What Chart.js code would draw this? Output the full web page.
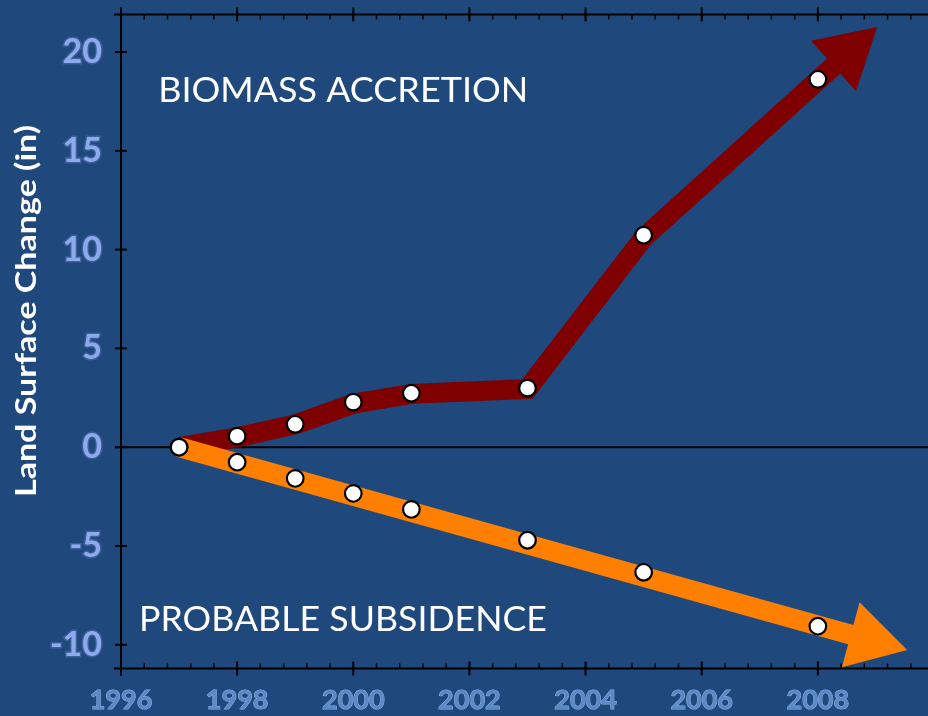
<!DOCTYPE html>
<html><head><meta charset="utf-8">
<script src="https://cdn.jsdelivr.net/npm/chart.js@4.4.0/dist/chart.umd.min.js"></script>
<style>
html,body{margin:0;padding:0;background:#1F497D;overflow:hidden;width:928px;height:716px}
#wrap{position:absolute;left:0;top:0;width:940px;height:716px}
</style></head><body>
<div id="wrap"><canvas id="c"></canvas></div>
<script>
// ---- data ----
const markerYears = [1997, 1998, 1999, 2000, 2001, 2003, 2005, 2008];
const accretionValues = [0, 0.56, 1.16, 2.28, 2.73, 2.99, 10.73, 18.62];
const subsidenceValues = [0, -0.76, -1.58, -2.34, -3.15, -4.71, -6.33, -9.06];
const accretionArrowYears = [1997, 1998, 1999, 2000, 2001, 2003, 2005, 2008.52];
const accretionArrowValues = [0, 0.5, 1.15, 2.2, 2.7, 2.95, 10.6, 19.95];
const subsidenceArrowYears = [1997, 2008.89];
const subsidenceArrowValues = [0, -9.75];
const xTickValues = [1996, 1998, 2000, 2002, 2004, 2006, 2008];
const yTickValues = [-10, -5, 0, 5, 10, 15, 20];
const labelAccretion = 'BIOMASS ACCRETION';
const labelSubsidence = 'PROBABLE SUBSIDENCE';
const yAxisTitle = 'Land Surface Change (in)';

const pts = (xs, ys) => xs.map((x, i) => ({x: x, y: ys[i]}));

const RED = '#7F0000', ORANGE = '#FF8000';

function drawFitted(ctx, text, x, y, width, font, rot) {
  ctx.save();
  ctx.font = font;
  const w = ctx.measureText(text).width;
  ctx.translate(x, y);
  if (rot) ctx.rotate(rot);
  ctx.scale(width / w, 1);
  ctx.textAlign = 'left';
  ctx.textBaseline = 'alphabetic';
  ctx.fillStyle = '#FFFFFF';
  ctx.fillText(text, 0, 0);
  ctx.restore();
}

const framePlugin = {
  id: 'frame',
  beforeDatasetsDraw(chart) {
    const {ctx, chartArea: a, scales: {x, y}} = chart;
    ctx.save();
    ctx.strokeStyle = '#000';
    ctx.lineWidth = 2;
    ctx.lineCap = 'butt';
    const line = (x1, y1, x2, y2) => { ctx.beginPath(); ctx.moveTo(x1, y1); ctx.lineTo(x2, y2); ctx.stroke(); };
    // zero line
    const y0 = y.getPixelForValue(0);
    line(a.left - 6, y0, a.right, y0);
    // frame
    line(a.left - 7, a.bottom, a.right + 7, a.bottom);
    line(a.left - 7, a.top, a.right + 7, a.top);
    line(a.left, a.top - 7, a.left, a.bottom + 7);
    line(a.right, a.top - 7, a.right, a.bottom + 7);
    // minor x ticks every 0.4 year
    ctx.lineWidth = 1.5;
    for (let v = x.min; v <= x.max + 1e-6; v += 0.4) {
      const px = x.getPixelForValue(v);
      line(px, a.bottom, px, a.bottom - 5);
      line(px, a.top, px, a.top + 5);
    }
    // major x ticks
    ctx.lineWidth = 2;
    for (const v of xTickValues.concat([x.max])) {
      const px = x.getPixelForValue(v);
      line(px, a.bottom - 7, px, a.bottom + 7);
      line(px, a.top - 7, px, a.top + 7);
    }
    // major y ticks
    for (const v of yTickValues) {
      const py = y.getPixelForValue(v);
      line(a.left - 6, py, a.left + 6, py);
      line(a.right - 6, py, a.right + 6, py);
    }
    ctx.restore();
  },
  afterDraw(chart) {
    const {ctx, scales: {x, y}} = chart;
    drawFitted(ctx, labelAccretion, x.getPixelForValue(1996.64), y.getPixelForValue(17.48), 370, '35px Lato');
    drawFitted(ctx, labelSubsidence, x.getPixelForValue(1996.31), y.getPixelForValue(-9.3), 408, '35px Lato');
    drawFitted(ctx, yAxisTitle, 36, 497, 372, 'bold 28px Lato', -Math.PI / 2);
  }
};

new Chart(document.getElementById('c'), {
  type: 'scatter',
  data: {
    datasets: [
      {
        label: 'Biomass accretion',
        data: pts(markerYears, accretionValues),
        showLine: false,
        pointRadius: 8.3,
        pointBorderWidth: 2.2,
        pointBorderColor: '#000',
        pointBackgroundColor: '#FFF',
        order: 0
      },
      {
        label: 'Probable subsidence',
        data: pts(markerYears, subsidenceValues),
        showLine: false,
        pointRadius: 8.3,
        pointBorderWidth: 2.2,
        pointBorderColor: '#000',
        pointBackgroundColor: '#FFF',
        order: 0
      },
      {
        label: 'Subsidence trend',
        data: pts(subsidenceArrowYears, subsidenceArrowValues),
        showLine: true,
        borderColor: ORANGE,
        borderWidth: 20,
        borderCapStyle: 'butt',
        pointStyle: 'triangle',
        pointRadius: c => c.dataIndex === subsidenceArrowYears.length - 1 ? 39 : 0,
        pointRotation: 105.2,
        pointBackgroundColor: ORANGE,
        pointBorderWidth: 0,
        order: 1
      },
      {
        label: 'Accretion trend',
        data: pts(accretionArrowYears, accretionArrowValues),
        showLine: true,
        borderColor: RED,
        borderWidth: 20,
        borderCapStyle: 'butt',
        borderJoinStyle: 'miter',
        pointStyle: 'triangle',
        pointRadius: c => c.dataIndex === accretionArrowYears.length - 1 ? 39 : 0,
        pointRotation: 48.2,
        pointBackgroundColor: RED,
        pointBorderWidth: 0,
        order: 2
      }
    ]
  },
  options: {
    responsive: true,
    maintainAspectRatio: false,
    animation: false,
    events: [],
    layout: {autoPadding: false, padding: {top: 14.5, right: 6, left: 0, bottom: 0}},
    plugins: {legend: {display: false}, tooltip: {enabled: false}},
    scales: {
      x: {
        type: 'linear',
        min: 1996, max: 2010,
        afterFit: s => { s.height = 47.5; s.paddingLeft = 0; s.paddingRight = 0; s.paddingTop = 0; s.paddingBottom = 0; },
        afterBuildTicks: s => { s.ticks = xTickValues.map(v => ({value: v})); },
        grid: {display: false, drawTicks: false},
        border: {display: false},
        ticks: {
          color: '#5C8AC8',
          textStrokeColor: '#8FB0DE',
          textStrokeWidth: 1,
          font: {family: 'Lato', weight: 'bold', size: 27},
          padding: 16,
          maxRotation: 0,
          autoSkip: false,
          callback: v => String(v)
        }
      },
      y: {
        type: 'linear',
        min: -11.2, max: 21.9,
        afterFit: s => { s.width = 121; s.paddingLeft = 0; s.paddingRight = 0; s.paddingTop = 0; s.paddingBottom = 0; },
        afterBuildTicks: s => { s.ticks = yTickValues.map(v => ({value: v})); },
        grid: {display: false, drawTicks: false},
        border: {display: false},
        ticks: {
          color: '#8EAAEE',
          textStrokeColor: '#3D5F98',
          textStrokeWidth: 3,
          font: {family: 'Lato', weight: 'bold', size: 34},
          padding: 19,
          autoSkip: false,
          callback: v => String(v)
        }
      }
    }
  },
  plugins: [framePlugin]
});
</script>
</body></html>
